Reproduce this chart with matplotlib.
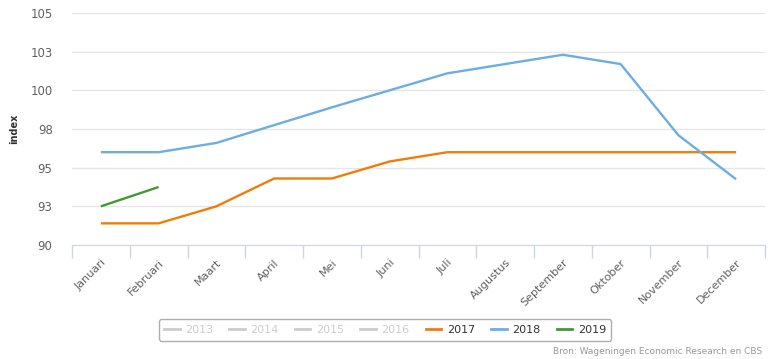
import matplotlib
matplotlib.use("Agg")
import matplotlib.pyplot as plt
from matplotlib.lines import Line2D

months = ["Januari", "Februari", "Maart", "April", "Mei", "Juni", "Juli",
          "Augustus", "September", "Oktober", "November", "December"]
v2017 = [91.4, 91.4, 92.5, 94.3, 94.3, 95.4, 96.0, 96.0, 96.0, 96.0, 96.0, 96.0]
v2018 = [96.0, 96.0, 96.6, 97.75, 98.9, 100.0, 101.1, 101.7, 102.3, 101.7, 97.1, 94.25]
v2019 = [92.5, 93.75]
yticks = [90, 92.5, 95, 97.5, 100, 102.5, 105]
ytick_labels = ["90", "93", "95", "98", "100", "103", "105"]
legend_years = ["2013", "2014", "2015", "2016", "2017", "2018", "2019"]

c17, c18, c19 = "#ef7d0b", "#6caee0", "#3f9a2f"

fig = plt.figure(figsize=(7.69, 3.59), dpi=100)
ax = fig.add_axes([72/769, 1-245/359, (765-72)/769, (245-13)/359])

x = list(range(len(months)))
ax.plot(x, v2017, color=c17, lw=1.7, solid_capstyle="butt", zorder=3)
ax.plot(x, v2018, color=c18, lw=1.7, solid_capstyle="butt", zorder=3)
ax.plot(x[:len(v2019)], v2019, color=c19, lw=1.7, solid_capstyle="butt", zorder=3)

ax.set_xlim(-0.5, len(months) - 0.5)
ax.set_ylim(90, 105)
ax.set_yticks(yticks)
ax.set_yticklabels(ytick_labels)
ax.grid(axis="y", color="#e6e6e6", lw=1)
ax.set_axisbelow(True)
for s in ["top", "right", "left"]:
    ax.spines[s].set_visible(False)
ax.spines["bottom"].set_color("#ccd6eb")
ax.tick_params(axis="y", length=0, pad=14, labelsize=8.4, labelcolor="#606060")

ax.set_xticks(x)
ax.set_xticklabels(months, rotation=45, ha="right", rotation_mode="anchor",
                   fontsize=8, color="#606060")
ax.set_xticks([i - 0.5 for i in range(len(months) + 1)], minor=True)
ax.tick_params(axis="x", which="major", length=0, pad=9)
ax.tick_params(axis="x", which="minor", length=9, color="#ccd6eb", width=1)

fig.text(14/769, 1-129/359, "index", rotation=90, ha="center", va="center",
         fontsize=7, fontweight="bold", color="#333333")

handles = []
colors = ["#cccccc"] * 4 + [c17, c18, c19]
for yr, c in zip(legend_years, colors):
    handles.append(Line2D([0], [0], color=c, lw=2))
leg = fig.legend(handles, legend_years, loc="center", ncol=7,
                 bbox_to_anchor=(385/769, 1-330/359), fontsize=8,
                 frameon=True, handlelength=1.4, handletextpad=0.5,
                 columnspacing=1.45, borderpad=0.5, fancybox=True)
leg.get_frame().set_edgecolor("#999999")
leg.get_frame().set_linewidth(1)
for t, c in zip(leg.get_texts(), ["#cccccc"] * 4 + ["#333333"] * 3):
    t.set_color(c)

fig.text(762/769, 1-351/359, "Bron: Wageningen Economic Research en CBS",
         ha="right", va="center", fontsize=6.5, color="#999999")

fig.savefig("out.png", dpi=100)
